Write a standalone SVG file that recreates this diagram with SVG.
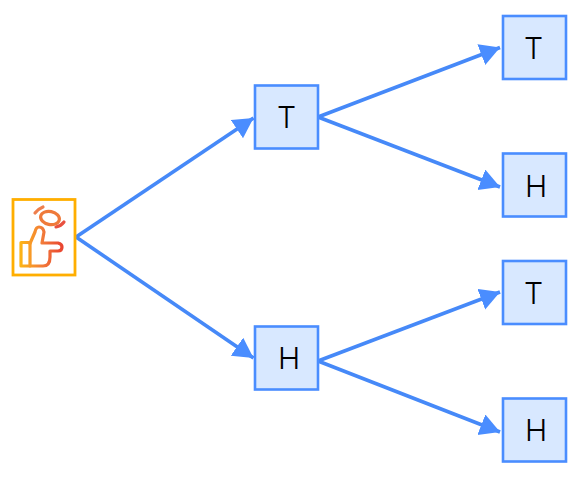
<svg xmlns="http://www.w3.org/2000/svg" width="580" height="478" viewBox="0 0 580 478">
<style>
.n{fill:#d8e8ff;stroke:#4a8dff;stroke-width:2.600}
.t{font-family:"Inter","Liberation Sans",sans-serif;font-size:30px;font-weight:300;fill:#000;text-anchor:middle}
.c{fill:none;stroke:#4689f8;stroke-width:3.600}
.i{fill:none;stroke:url(#g);stroke-width:3.200;stroke-linecap:round;stroke-linejoin:round}
</style>
<defs>
<marker id="a" markerUnits="userSpaceOnUse" markerWidth="22" markerHeight="24" refX="20" refY="11" orient="auto"><path d="M0 0L20 11L0 22Z" fill="#4a8dff"/></marker>
<linearGradient id="g" gradientUnits="userSpaceOnUse" x1="20" y1="240" x2="64" y2="240"><stop offset="0" stop-color="#fdb515"/><stop offset="0.5" stop-color="#f27c3a"/><stop offset="1" stop-color="#e8402f"/></linearGradient>
</defs>
<rect width="580" height="478" fill="#fff"/>
<g id="connectors">
<path class="c" marker-end="url(#a)" d="M76 237L253.500 118"/>
<path class="c" marker-end="url(#a)" d="M76 237L253.500 358"/>
<path class="c" marker-end="url(#a)" d="M318 117L500 47.500"/>
<path class="c" marker-end="url(#a)" d="M318 117L500 187"/>
<path class="c" marker-end="url(#a)" d="M318 361L500 292"/>
<path class="c" marker-end="url(#a)" d="M318 361L500 432"/>
</g>
<g id="root">
<rect x="13" y="199.500" width="62" height="75.500" fill="#fff" stroke="#ffae00" stroke-width="2.800"/>
<path class="i" d="M21 242.500H30V266H21Z"/>
<path class="i" d="M30 243.500L35 232Q36 227 39 227Q43 227 44 232L42 243H58Q62 244 62 247Q62 251 58 251H50V257Q50 266 43 266H30"/>
<ellipse cx="50" cy="218" rx="9.500" ry="6.500" class="i" style="stroke:#ef7a3a" transform="rotate(12 50 218)"/>
<path class="i" d="M35 213Q38 209 43 207" style="stroke:#ee7f4d"/>
<path class="i" d="M56 227Q61 226 64 222" style="stroke:#e8503f"/>
</g>
<g id="t1"><rect class="n" x="255" y="85.500" width="63" height="63"/><text class="t" x="286.500" y="128">T</text></g>
<g id="h1"><rect class="n" x="255" y="326.500" width="63" height="63"/><text class="t" x="289" y="369">H</text></g>
<g id="tt"><rect class="n" x="503" y="16" width="63" height="63"/><text class="t" x="533.500" y="58.500">T</text></g>
<g id="th"><rect class="n" x="503" y="153.500" width="63" height="63"/><text class="t" x="536" y="197">H</text></g>
<g id="ht"><rect class="n" x="503" y="261" width="63" height="63"/><text class="t" x="533.500" y="303.500">T</text></g>
<g id="hh"><rect class="n" x="503" y="398.500" width="63" height="63"/><text class="t" x="536" y="441">H</text></g>
</svg>
